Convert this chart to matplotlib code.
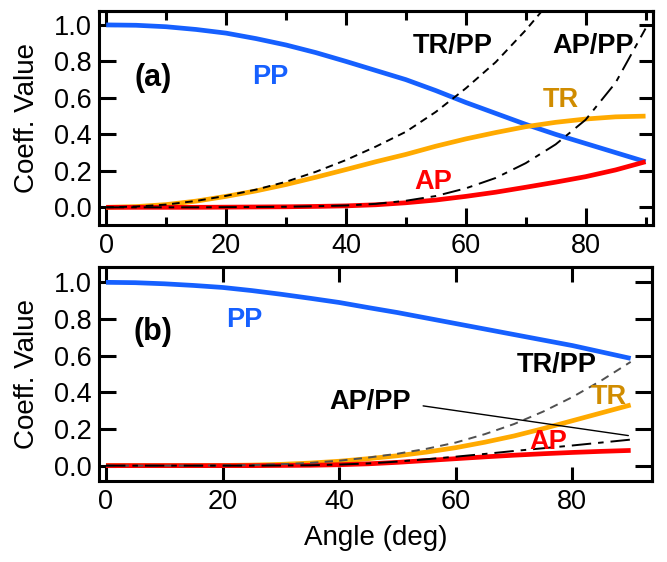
import matplotlib
matplotlib.use("Agg")
import matplotlib.pyplot as plt

plt.rcParams["font.family"] = ["Liberation Sans", "DejaVu Sans"]
plt.rcParams["lines.scale_dashes"] = False

# angle grid (deg), values every 5 degrees
angle = [0, 5, 10, 15, 20, 25, 30, 35, 40, 45, 50, 55, 60, 65, 70, 75, 80, 85, 90]

# panel (a)
pp_a = [1.000, 0.998, 0.990, 0.975, 0.955, 0.925, 0.890, 0.848, 0.800, 0.750,
        0.700, 0.640, 0.575, 0.515, 0.455, 0.400, 0.350, 0.300, 0.250]
tr_a = [0.000, 0.004, 0.015, 0.034, 0.060, 0.090, 0.125, 0.165, 0.207, 0.250,
        0.290, 0.335, 0.375, 0.410, 0.442, 0.466, 0.484, 0.496, 0.500]
ap_a = [0.000, 0.000, 0.000, 0.000, 0.001, 0.002, 0.003, 0.005, 0.008, 0.014,
        0.025, 0.040, 0.060, 0.083, 0.110, 0.138, 0.168, 0.205, 0.250]
trpp_a = [0.000, 0.004, 0.015, 0.035, 0.063, 0.097, 0.140, 0.195, 0.259, 0.333,
          0.414, 0.523, 0.652, 0.796, 0.971, 1.165]
appp_a = [0.000, 0.000, 0.000, 0.000, 0.001, 0.002, 0.003, 0.006, 0.010, 0.019,
          0.036, 0.062, 0.104, 0.161, 0.242, 0.345, 0.480, 0.683, 0.980]

# panel (b)
pp_b = [1.000, 0.998, 0.992, 0.983, 0.972, 0.955, 0.935, 0.913, 0.890, 0.862,
        0.835, 0.805, 0.775, 0.745, 0.715, 0.685, 0.655, 0.620, 0.585]
tr_b = [0.000, 0.000, 0.000, 0.000, 0.001, 0.003, 0.007, 0.014, 0.024, 0.038,
        0.054, 0.074, 0.098, 0.128, 0.162, 0.202, 0.245, 0.288, 0.331]
ap_b = [0.000, 0.000, 0.000, 0.000, 0.000, 0.000, 0.001, 0.002, 0.005, 0.010,
        0.018, 0.028, 0.038, 0.048, 0.057, 0.065, 0.072, 0.078, 0.083]
trpp_b = [0.000, 0.000, 0.000, 0.000, 0.001, 0.003, 0.0075, 0.015, 0.027, 0.044,
          0.065, 0.092, 0.126, 0.172, 0.227, 0.295, 0.374, 0.465, 0.566]
appp_b = [0.000, 0.000, 0.000, 0.000, 0.000, 0.000, 0.001, 0.002, 0.006, 0.012,
          0.022, 0.035, 0.049, 0.064, 0.080, 0.095, 0.110, 0.126, 0.142]

yticks = [0.0, 0.2, 0.4, 0.6, 0.8, 1.0]
xticks = [0, 20, 40, 60, 80]
minor_xticks = [10, 30, 50, 70, 90]

BLUE = "#1660ff"
ORANGE = "#ffaa00"
RED = "#ff0000"
TR_TXT = "#d08c00"
LW = 3.4
SPINE = 2.2
TICK_FS = 19.5
LABEL_FS = 20
ANN_FS = 19.5
TAG_FS = 22

fig = plt.figure(figsize=(6.67, 5.62), dpi=100)
ax_a = fig.add_axes([0.1484, 0.5996, 0.8302, 0.3814])
ax_b = fig.add_axes([0.1484, 0.1447, 0.8286, 0.3797])


def style(ax, xlim, ylim, len_bot, len_top, len_left, len_right, minor):
    ax.set_xlim(*xlim)
    ax.set_ylim(*ylim)
    ax.set_xticks(xticks)
    ax.set_yticks(yticks)
    ax.set_yticklabels([f"{v:.1f}" for v in yticks])
    if minor:
        ax.set_xticks(minor_xticks, minor=True)
    for sp in ax.spines.values():
        sp.set_linewidth(SPINE)
    ax.tick_params(axis="x", which="major", direction="in", length=len_bot,
                   width=SPINE, labelsize=TICK_FS, pad=6)
    ax.tick_params(axis="x", which="minor", direction="in", length=6,
                   width=SPINE)
    ax.tick_params(axis="y", which="major", direction="in", length=len_left,
                   width=SPINE, labelsize=TICK_FS, pad=5)
    top = ax.secondary_xaxis("top")
    top.set_xticks(xticks)
    if minor:
        top.set_xticks(minor_xticks, minor=True)
    top.tick_params(which="major", direction="in", length=len_top,
                    width=SPINE, labeltop=False)
    top.tick_params(which="minor", direction="in", length=6.5, width=SPINE)
    top.spines["top"].set_linewidth(SPINE)
    right = ax.secondary_yaxis("right")
    right.set_yticks(yticks)
    right.tick_params(direction="in", length=len_right, width=SPINE,
                      labelright=False)
    right.spines["right"].set_linewidth(SPINE)
    ax.set_ylabel("Coeff. Value", fontsize=LABEL_FS, labelpad=10)


def tag(ax, x, y, s, color="black", size=ANN_FS):
    ax.text(x, y, s, color=color, fontsize=size, fontweight="bold",
            ha="center", va="center")


# ---- panel (a)
ax = ax_a
ax.plot(angle, pp_a, color=BLUE, lw=LW, solid_capstyle="butt")
ax.plot(angle, tr_a, color=ORANGE, lw=LW, solid_capstyle="butt")
ax.plot(angle, ap_a, color=RED, lw=LW, solid_capstyle="butt")
ax.plot(angle[:len(trpp_a)], trpp_a, color="black", lw=1.4, dashes=(5.5, 4))
ax.plot(angle, appp_a, color="black", lw=1.4, dashes=(13, 5, 4, 5))
style(ax, (-1.2, 91.2), (-0.097, 1.078), 12, 10, 12, 10, True)

tag(ax, 7.8, 0.71, "(a)", size=TAG_FS)
tag(ax, 27.3, 0.716, "PP", BLUE)
tag(ax, 57.9, 0.885, "TR/PP")
tag(ax, 81.2, 0.885, "AP/PP")
tag(ax, 75.9, 0.589, "TR", TR_TXT)
tag(ax, 54.6, 0.14, "AP", RED)

# ---- panel (b)
ax = ax_b
ax.plot(angle, pp_b, color=BLUE, lw=LW, solid_capstyle="butt")
ax.plot(angle, tr_b, color=ORANGE, lw=LW, solid_capstyle="butt")
ax.plot(angle, ap_b, color=RED, lw=LW, solid_capstyle="butt")
ax.plot(angle, trpp_b, color="#505050", lw=1.4, dashes=(6, 4.5))
ax.plot(angle, appp_b, color="black", lw=1.4, dashes=(14, 5, 4, 5))
style(ax, (-1.2, 93.6), (-0.082, 1.082), 10, 11, 12, 12, False)
ax.set_xlabel("Angle (deg)", fontsize=LABEL_FS, labelpad=7)

tag(ax, 8.1, 0.731, "(b)", size=TAG_FS)
tag(ax, 23.8, 0.795, "PP", BLUE)
tag(ax, 45.3, 0.349, "AP/PP")
tag(ax, 77.3, 0.549, "TR/PP")
tag(ax, 86.2, 0.376, "TR", TR_TXT)
tag(ax, 75.9, 0.131, "AP", RED)
ax.annotate("", xy=(89.6, 0.164), xytext=(54.4, 0.326),
            arrowprops=dict(arrowstyle="-", color="black", lw=1.0,
                            shrinkA=0, shrinkB=0))

fig.align_ylabels([ax_a, ax_b])
fig.savefig("out.png", dpi=100)
